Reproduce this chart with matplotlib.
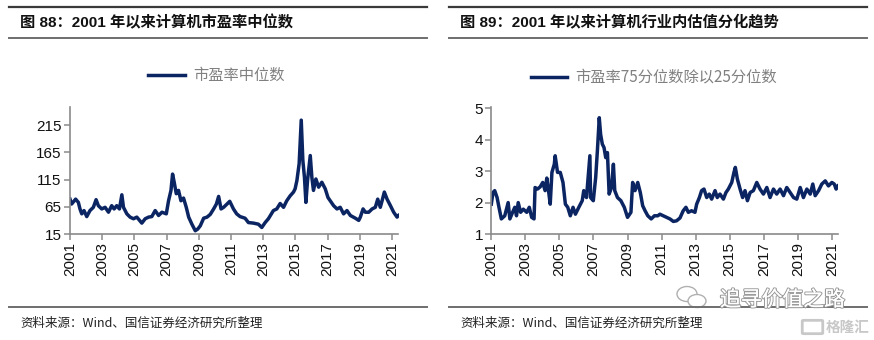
import matplotlib
matplotlib.use("Agg")
import matplotlib.pyplot as plt
from matplotlib.lines import Line2D
from matplotlib.patches import Ellipse, FancyBboxPatch
import matplotlib.patheffects as pe

plt.rcParams['font.family'] = ['Liberation Sans', 'Noto Sans CJK SC', 'DejaVu Sans']

# ---------------- data ----------------
pe_years = [2001.00, 2001.10, 2001.35, 2001.52, 2001.62, 2001.73, 2001.87, 2002.04, 2002.24, 2002.45,
            2002.62, 2002.76, 2002.97, 2003.18, 2003.39, 2003.59, 2003.74, 2003.90, 2004.07, 2004.22,
            2004.32, 2004.53, 2004.73, 2004.94, 2005.15, 2005.46, 2005.67, 2005.88, 2006.08, 2006.29,
            2006.50, 2006.71, 2006.98, 2007.12, 2007.27, 2007.37, 2007.47, 2007.60, 2007.74, 2007.89,
            2008.05, 2008.22, 2008.37, 2008.57, 2008.78, 2008.93, 2009.09, 2009.30, 2009.51, 2009.71,
            2009.92, 2010.09, 2010.23, 2010.38, 2010.54, 2010.75, 2010.92, 2011.15, 2011.35, 2011.56,
            2011.87, 2012.08, 2012.39, 2012.70, 2012.91, 2013.12, 2013.32, 2013.63, 2013.84, 2014.05,
            2014.26, 2014.46, 2014.67, 2014.88, 2014.98, 2015.09, 2015.23, 2015.36, 2015.46, 2015.56,
            2015.65, 2015.75, 2015.92, 2016.02, 2016.12, 2016.27, 2016.44, 2016.64, 2016.85, 2017.02,
            2017.16, 2017.37, 2017.58, 2017.78, 2017.99, 2018.20, 2018.41, 2018.72, 2018.93, 2019.03,
            2019.20, 2019.34, 2019.55, 2019.76, 2019.96, 2020.11, 2020.27, 2020.38, 2020.52, 2020.69,
            2020.90, 2021.10, 2021.31, 2021.40]
pe_median = [79, 70, 79, 73, 61, 52, 58, 47, 58, 64,
             78, 67, 61, 64, 55, 67, 61, 67, 61, 87,
             64, 52, 46, 43, 46, 35, 43, 46, 47, 58,
             49, 55, 52, 76, 95, 125, 110, 89, 95, 76,
             81, 64, 46, 33, 21, 24, 30, 44, 46, 51,
             61, 70, 84, 61, 64, 70, 75, 61, 52, 47,
             44, 36, 35, 33, 27, 36, 43, 58, 61, 71,
             64, 76, 85, 92, 98, 113, 144, 224, 150, 119,
             73, 113, 159, 119, 95, 116, 101, 110, 98, 82,
             76, 67, 61, 64, 52, 58, 49, 44, 40, 46,
             61, 55, 55, 61, 64, 79, 64, 76, 92, 79,
             67, 55, 46, 49]

ratio_years = [2001.00, 2001.10, 2001.20, 2001.34, 2001.45, 2001.59, 2001.79, 2001.99, 2002.09, 2002.25,
               2002.38, 2002.48, 2002.58, 2002.72, 2002.88, 2003.08, 2003.23, 2003.37, 2003.51, 2003.57,
               2003.71, 2003.87, 2004.02, 2004.16, 2004.26, 2004.36, 2004.46, 2004.56, 2004.70, 2004.75,
               2004.89, 2005.05, 2005.21, 2005.35, 2005.49, 2005.64, 2005.80, 2005.94, 2006.14, 2006.34,
               2006.43, 2006.59, 2006.67, 2006.79, 2006.83, 2006.99, 2007.13, 2007.23, 2007.34, 2007.42,
               2007.52, 2007.62, 2007.72, 2007.82, 2007.92, 2008.06, 2008.17, 2008.25, 2008.41, 2008.61,
               2008.81, 2009.00, 2009.20, 2009.30, 2009.44, 2009.60, 2009.75, 2009.89, 2010.03, 2010.19,
               2010.39, 2010.58, 2010.78, 2010.90, 2011.10, 2011.29, 2011.49, 2011.69, 2011.88, 2012.08,
               2012.27, 2012.43, 2012.57, 2012.76, 2012.96, 2013.06, 2013.22, 2013.35, 2013.49, 2013.65,
               2013.80, 2013.94, 2014.14, 2014.27, 2014.43, 2014.63, 2014.78, 2014.92, 2015.12, 2015.25,
               2015.33, 2015.45, 2015.61, 2015.76, 2015.90, 2016.04, 2016.20, 2016.39, 2016.59, 2016.78,
               2016.98, 2017.18, 2017.37, 2017.57, 2017.76, 2017.96, 2018.16, 2018.35, 2018.55, 2018.75,
               2018.94, 2019.14, 2019.33, 2019.53, 2019.73, 2019.88, 2020.02, 2020.22, 2020.41, 2020.61,
               2020.80, 2021.00, 2021.14, 2021.25, 2021.35]
ratio_75_25 = [1.95, 2.32, 2.38, 2.16, 1.85, 1.48, 1.58, 2.00, 1.48, 1.69,
               1.85, 1.58, 2.00, 1.69, 1.79, 1.69, 1.85, 1.53, 1.48, 2.48,
               2.43, 2.50, 2.64, 2.38, 2.78, 2.38, 1.95, 2.96, 3.22, 3.49,
               2.96, 2.96, 2.64, 1.95, 1.85, 1.58, 1.85, 1.63, 1.85, 2.06,
               2.38, 2.16, 2.69, 3.49, 2.16, 2.06, 2.80, 3.65, 4.70, 4.17,
               3.86, 3.75, 3.43, 3.59, 2.27, 2.48, 3.22, 2.38, 2.16, 2.06,
               1.85, 1.53, 1.69, 2.64, 2.38, 2.64, 2.32, 1.90, 1.74, 1.58,
               1.48, 1.58, 1.58, 1.63, 1.58, 1.53, 1.48, 1.40, 1.42, 1.51,
               1.74, 1.85, 1.69, 1.74, 1.69, 1.95, 2.16, 2.38, 2.43, 2.16,
               2.27, 2.11, 2.38, 2.16, 2.27, 2.11, 2.32, 2.43, 2.64, 2.96,
               3.12, 2.75, 2.43, 2.16, 2.38, 2.06, 2.32, 2.38, 2.64, 2.43,
               2.27, 2.48, 2.16, 2.43, 2.27, 2.43, 2.22, 2.48, 2.32, 2.16,
               2.11, 2.48, 2.16, 2.43, 2.27, 2.59, 2.22, 2.38, 2.59, 2.69,
               2.53, 2.64, 2.59, 2.43, 2.53]

year_ticks = list(range(2001, 2022, 2))
year_labels = [str(y) for y in year_ticks]
left_yticks = [15, 65, 115, 165, 215]
right_yticks = [1, 2, 3, 4, 5]

title_left = "图 88：2001 年以来计算机市盈率中位数"
title_right = "图 89：2001 年以来计算机行业内估值分化趋势"
legend_left = "市盈率中位数"
legend_right = "市盈率75分位数除以25分位数"
source_text = "资料来源：Wind、国信证券经济研究所整理"

# ---------------- figure ----------------
W, H = 874, 340
fig = plt.figure(figsize=(W / 100, H / 100), dpi=100)
fig.patch.set_facecolor('white')

LINE_COLOR = '#0b2462'
SPINE = '#8a8a8a'


def fx(px):
    return px / W


def fy(py):
    return 1 - py / H


def hline(x0, x1, y, color, lw):
    fig.add_artist(Line2D([fx(x0), fx(x1)], [fy(y), fy(y)], color=color, lw=lw,
                          transform=fig.transFigure))


def style_axes(ax, yticks, ylim, xlim):
    ax.set_xlim(*xlim)
    ax.set_ylim(*ylim)
    ax.set_yticks(yticks)
    ax.set_xticks(year_ticks)
    ax.set_xticklabels(year_labels, rotation=90, fontsize=11, family='Liberation Sans')
    for lab in ax.get_yticklabels():
        lab.set_fontsize(11)
        lab.set_family('Liberation Sans')
    for s in ['top', 'right']:
        ax.spines[s].set_visible(False)
    for s in ['left', 'bottom']:
        ax.spines[s].set_color(SPINE)
        ax.spines[s].set_linewidth(1.2)
    ax.tick_params(direction='out', length=4, width=1.1, color=SPINE, labelcolor='#111111', pad=2)
    ax.patch.set_alpha(0)


# left panel
axL = fig.add_axes([fx(70), fy(234), fx(398.5) - fx(70), fy(106.7) - fy(234)])
axL.plot(pe_years, pe_median, color=LINE_COLOR, lw=2.5, solid_joinstyle='round')
style_axes(axL, left_yticks, (15, 248.7), (2001, 2021.4))

# right panel
axR = fig.add_axes([fx(491.3), fy(234), fx(838) - fx(491.3), fy(108.3) - fy(234)])
axR.plot(ratio_years, ratio_75_25, color=LINE_COLOR, lw=2.5, solid_joinstyle='round')
style_axes(axR, right_yticks, (1, 5), (2001, 2021.36))
axR.spines['left'].set_bounds(1, 5.04)

# header / footer rules
for x0, x1 in [(9, 427), (449, 867)]:
    hline(x0, x1, 7, '#3a3a3a', 1.6)
    hline(x0, x1, 38, '#6e6e6e', 1.4)
    hline(x0, x1, 307, '#6e6e6e', 1.4)

# titles
fig.text(fx(20), fy(23), title_left, fontsize=11, fontweight='bold', color='#111111',
         va='center', ha='left', family=['Liberation Sans', 'Noto Sans CJK SC'])
fig.text(fx(460), fy(23), title_right, fontsize=11, fontweight='bold', color='#111111',
         va='center', ha='left', family=['Liberation Sans', 'Noto Sans CJK SC'])

# legends
fig.add_artist(Line2D([fx(148), fx(185)], [fy(75), fy(75)], color=LINE_COLOR, lw=2.5,
                      transform=fig.transFigure))
fig.text(fx(193), fy(75), legend_left, fontsize=11, color='#808080', va='center', ha='left',
         family=['Noto Sans CJK SC'])
fig.add_artist(Line2D([fx(531), fx(567)], [fy(77), fy(77)], color=LINE_COLOR, lw=2.5,
                      transform=fig.transFigure))
fig.text(fx(575), fy(77), legend_right, fontsize=11, color='#808080', va='center', ha='left',
         family=['Noto Sans CJK SC'])

# sources
for x in (20, 460):
    fig.text(fx(x), fy(323), source_text, fontsize=9, color='#222222', va='center', ha='left',
             family=['Noto Sans CJK SC', 'Liberation Sans'])

# watermark
wm = fig.text(fx(720), fy(300), "追寻价值之路", fontsize=15, color='white', va='center', ha='left',
              family=['Noto Sans CJK SC'])
wm.set_path_effects([pe.withStroke(linewidth=1.6, foreground='#9a9a9a'), pe.Normal()])
for (cx, cy, w, h) in [(687, 294, 20, 15), (697, 301, 18, 13)]:
    fig.add_artist(Ellipse((fx(cx), fy(cy)), fx(w), h / H, transform=fig.transFigure,
                           facecolor='white', edgecolor='#b0b0b0', lw=1.0))
fig.add_artist(FancyBboxPatch((fx(804), fy(333)), fx(17), 12 / H, boxstyle='round,pad=0.002',
                              transform=fig.transFigure, facecolor='none', edgecolor='#c8c8c8', lw=2))
fig.text(fx(826), fy(327), "格隆汇", fontsize=10.5, color='#c8c8c8', va='center', ha='left',
         family=['Noto Sans CJK SC'], fontweight='bold')

fig.savefig('out.png', dpi=100, facecolor='white')
